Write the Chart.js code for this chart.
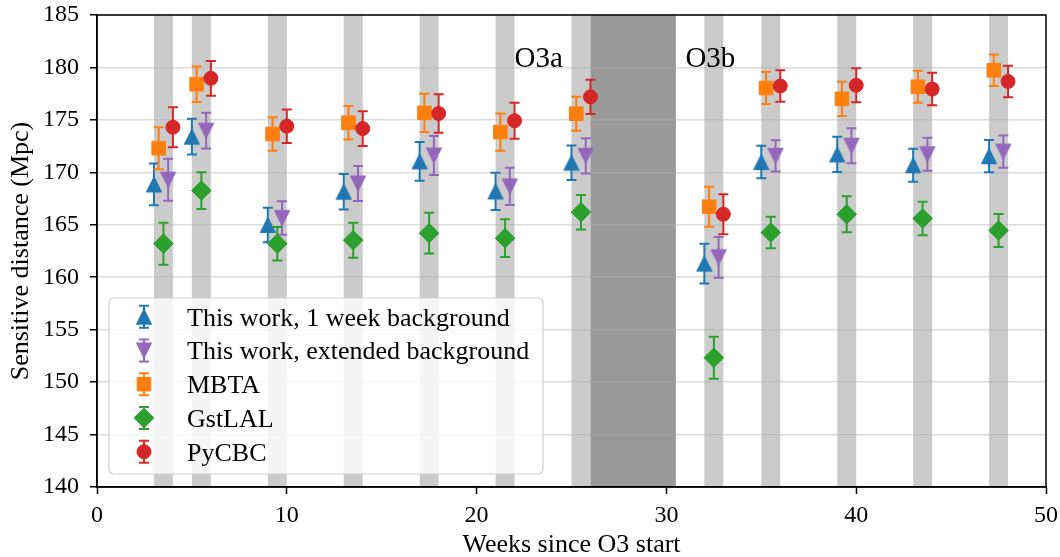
<!DOCTYPE html>
<html>
<head>
<meta charset="utf-8">
<script src="https://cdn.jsdelivr.net/npm/chart.js@4.4.1/dist/chart.umd.min.js"></script>
<style>
  html, body { margin: 0; padding: 0; background: #fff; }
  canvas { display: block; }
</style>
</head>
<body>
<canvas id="sens" width="1060" height="557"></canvas>
<script>
// ─── DATA ───
const weekStart = [3, 5, 9, 13, 17, 21, 25, 32, 35, 39, 43, 47];

const oneWeek    = [168.85, 173.4, 164.98, 168.15, 171.05, 168.18, 170.92, 161.3, 170.98, 171.71, 170.68, 171.54];
const oneWeekErr = [2.0, 1.7, 1.65, 1.7, 1.85, 1.78, 1.65, 1.9, 1.55, 1.68, 1.57, 1.54];

const extended    = [169.3, 173.97, 165.64, 168.93, 171.6, 168.66, 171.58, 161.9, 171.57, 172.53, 171.73, 171.98];
const extendedErr = [2.0, 1.7, 1.6, 1.67, 1.86, 1.78, 1.68, 1.94, 1.5, 1.67, 1.57, 1.54];

const mbta    = [172.3, 178.4, 173.65, 174.73, 175.67, 173.84, 175.59, 166.72, 178.04, 177.0, 178.16, 179.73];
const mbtaErr = [2.0, 1.7, 1.6, 1.6, 1.83, 1.78, 1.62, 1.9, 1.53, 1.64, 1.52, 1.5];

const gstlal    = [163.2, 168.26, 163.2, 163.53, 164.2, 163.72, 166.2, 152.33, 164.26, 166.0, 165.6, 164.45];
const gstlalErr = [2.0, 1.75, 1.6, 1.67, 1.94, 1.8, 1.64, 2.0, 1.5, 1.72, 1.6, 1.57];

const pycbc    = [174.3, 178.96, 174.4, 174.17, 175.61, 174.92, 177.2, 166.0, 178.23, 178.3, 177.94, 178.66];
const pycbcErr = [1.9, 1.65, 1.6, 1.65, 1.84, 1.72, 1.63, 1.9, 1.5, 1.62, 1.55, 1.5];

// week offset of each pipeline inside its analysis week
const seriesOffset = { oneWeek: 0, mbta: 0.25, gstlal: 0.5, extended: 0.75, pycbc: 1 };

const analysedWeeks = [[3,4],[5,6],[9,10],[13,14],[17,18],[21,22],[25,26],[32,33],[35,36],[39,40],[43,44],[47,48]];
const breakWeeks = [26, 30.5];
const runLabels = [{ text: 'O3a', week: 22, dist: 180 }, { text: 'O3b', week: 31, dist: 180 }];

const xTicks = [0, 10, 20, 30, 40, 50];
const yRange = [140, 185];

// ─── STYLE ───
const SERIF = "'Liberation Serif', 'DejaVu Serif', serif";
const C = { blue: '#1f77b4', purple: '#9467bd', orange: '#ff7f0e', green: '#2ca02c', red: '#d62728' };

Chart.defaults.font.family = SERIF;
Chart.defaults.color = '#000';

function triangleMarker(color, up) {
  const c = document.createElement('canvas');
  c.width = 20; c.height = 20;
  const g = c.getContext('2d');
  const h = 7.6, cx = 10, cy = 10;
  g.fillStyle = color; g.strokeStyle = color; g.lineWidth = 1; g.lineJoin = 'miter';
  g.beginPath();
  if (up) { g.moveTo(cx, cy - h); g.lineTo(cx + h, cy + h); g.lineTo(cx - h, cy + h); }
  else    { g.moveTo(cx, cy + h); g.lineTo(cx + h, cy - h); g.lineTo(cx - h, cy - h); }
  g.closePath(); g.fill(); g.stroke();
  return c;
}

const points = (vals, errs, off) => vals.map((v, i) => ({ x: weekStart[i] + off, y: v, err: errs[i] }));

const series = [
  { label: 'This work, 1 week background', color: C.blue, style: triangleMarker(C.blue, true), radius: 8,
    data: points(oneWeek, oneWeekErr, seriesOffset.oneWeek), order: 5 },
  { label: 'This work, extended background', color: C.purple, style: triangleMarker(C.purple, false), radius: 8,
    data: points(extended, extendedErr, seriesOffset.extended), order: 4 },
  { label: 'MBTA', color: C.orange, style: 'rect', radius: 9.6,
    data: points(mbta, mbtaErr, seriesOffset.mbta), order: 3 },
  { label: 'GstLAL', color: C.green, style: 'rectRot', radius: 9.8,
    data: points(gstlal, gstlalErr, seriesOffset.gstlal), order: 2 },
  { label: 'PyCBC', color: C.red, style: 'circle', radius: 7,
    data: points(pycbc, pycbcErr, seriesOffset.pycbc), order: 1 }
];

// ─── PLUGINS ───
function errBar(ctx, x, yTop, yBot, color) {
  ctx.save();
  ctx.strokeStyle = color; ctx.lineWidth = 2; ctx.lineCap = 'butt';
  ctx.beginPath();
  ctx.moveTo(x, yTop); ctx.lineTo(x, yBot);
  ctx.moveTo(x - 5, yTop); ctx.lineTo(x + 5, yTop);
  ctx.moveTo(x - 5, yBot); ctx.lineTo(x + 5, yBot);
  ctx.stroke();
  ctx.restore();
}

const bandsPlugin = {
  id: 'bands',
  beforeDraw(chart) {
    const { ctx, chartArea: a, scales: { x } } = chart;
    ctx.save();
    ctx.fillStyle = '#cbcbcb';
    analysedWeeks.forEach(([s, e]) => {
      ctx.fillRect(x.getPixelForValue(s), a.top, x.getPixelForValue(e) - x.getPixelForValue(s), a.bottom - a.top);
    });
    ctx.fillStyle = '#999999';
    ctx.fillRect(x.getPixelForValue(breakWeeks[0]), a.top,
      x.getPixelForValue(breakWeeks[1]) - x.getPixelForValue(breakWeeks[0]), a.bottom - a.top);
    ctx.restore();
  }
};

const errorBarPlugin = {
  id: 'errorBars',
  beforeDatasetDraw(chart, args) {
    const ds = chart.data.datasets[args.index];
    const { ctx, chartArea: a, scales: { x, y } } = chart;
    ctx.save();
    ctx.beginPath(); ctx.rect(a.left, a.top, a.right - a.left, a.bottom - a.top); ctx.clip();
    ds.data.forEach(p => {
      errBar(ctx, x.getPixelForValue(p.x), y.getPixelForValue(p.y + p.err), y.getPixelForValue(p.y - p.err), ds.borderColor);
    });
    ctx.restore();
  }
};

const overlayPlugin = {
  id: 'overlay',
  afterDraw(chart) {
    const { ctx, chartArea: a, scales: { x, y } } = chart;
    ctx.save();
    // frame
    ctx.strokeStyle = '#000'; ctx.lineWidth = 1.5;
    ctx.strokeRect(a.left, a.top, a.right - a.left, a.bottom - a.top);

    // run labels
    ctx.fillStyle = '#000';
    ctx.font = `29px ${SERIF}`;
    ctx.textAlign = 'left'; ctx.textBaseline = 'alphabetic';
    runLabels.forEach(l => ctx.fillText(l.text, x.getPixelForValue(l.week), y.getPixelForValue(l.dist)));

    // legend
    const bx = 109, by = 298, bw = 434, bh = 176;
    ctx.beginPath();
    ctx.roundRect(bx, by, bw, bh, 5);
    ctx.fillStyle = 'rgba(255,255,255,0.8)';
    ctx.fill();
    ctx.strokeStyle = '#d0d0d0'; ctx.lineWidth = 1.2;
    ctx.stroke();

    ctx.font = `26px ${SERIF}`;
    series.forEach((s, i) => {
      const cy = 316.7 + i * 33.75, cx = 144;
      errBar(ctx, cx, cy - 11, cy + 11, s.color);
      ctx.fillStyle = s.color; ctx.strokeStyle = s.color; ctx.lineWidth = 1;
      Chart.helpers.drawPoint(ctx, { pointStyle: s.style, radius: s.radius, rotation: 0, borderWidth: 1 }, cx, cy);
      ctx.fillStyle = '#000';
      ctx.fillText(s.label, 187, cy + 9);
    });
    ctx.restore();
  }
};

// ─── CHART ───
new Chart(document.getElementById('sens'), {
  type: 'scatter',
  data: {
    datasets: series.map(s => ({
      label: s.label,
      data: s.data,
      order: s.order,
      borderColor: s.color,
      backgroundColor: s.color,
      pointStyle: s.style,
      pointRadius: s.radius,
      pointHoverRadius: s.radius,
      pointBorderWidth: 1,
      showLine: false
    }))
  },
  options: {
    responsive: false,
    animation: false,
    layout: { autoPadding: false, padding: { top: 15, right: 14, left: 0, bottom: 0 } },
    plugins: { legend: { display: false }, tooltip: { enabled: false } },
    scales: {
      x: {
        type: 'linear', min: 0, max: 50,
        afterBuildTicks: s => { s.ticks = xTicks.map(v => ({ value: v })); },
        afterFit: s => { s.height = 70; s.paddingLeft = 0; s.paddingRight = 0; },
        grid: { drawOnChartArea: false, drawTicks: true, tickLength: 7, tickWidth: 1.5, tickColor: '#000' },
        border: { color: '#000', width: 1.5 },
        ticks: { color: '#000', font: { family: SERIF, size: 24 }, padding: 7, maxRotation: 0 },
        title: { display: true, text: 'Weeks since O3 start', color: '#000',
                 font: { family: SERIF, size: 26, lineHeight: 1 }, padding: { top: 0, bottom: -1 } }
      },
      y: {
        min: yRange[0], max: yRange[1],
        ticks: { stepSize: 5, color: '#000', font: { family: SERIF, size: 24 }, padding: 11 },
        afterFit: s => { s.width = 97; s.paddingTop = 0; s.paddingBottom = 0; },
        grid: { color: 'rgba(176,176,176,0.45)', lineWidth: 1.5, drawTicks: true, tickLength: 7,
                tickWidth: 1.5, tickColor: '#000' },
        border: { color: '#000', width: 1.5 },
        title: { display: true, text: 'Sensitive distance (Mpc)', color: '#000',
                 font: { family: SERIF, size: 26, lineHeight: 1 }, padding: { top: 8, bottom: 0 } }
      }
    }
  },
  plugins: [bandsPlugin, errorBarPlugin, overlayPlugin]
});
</script>
</body>
</html>
